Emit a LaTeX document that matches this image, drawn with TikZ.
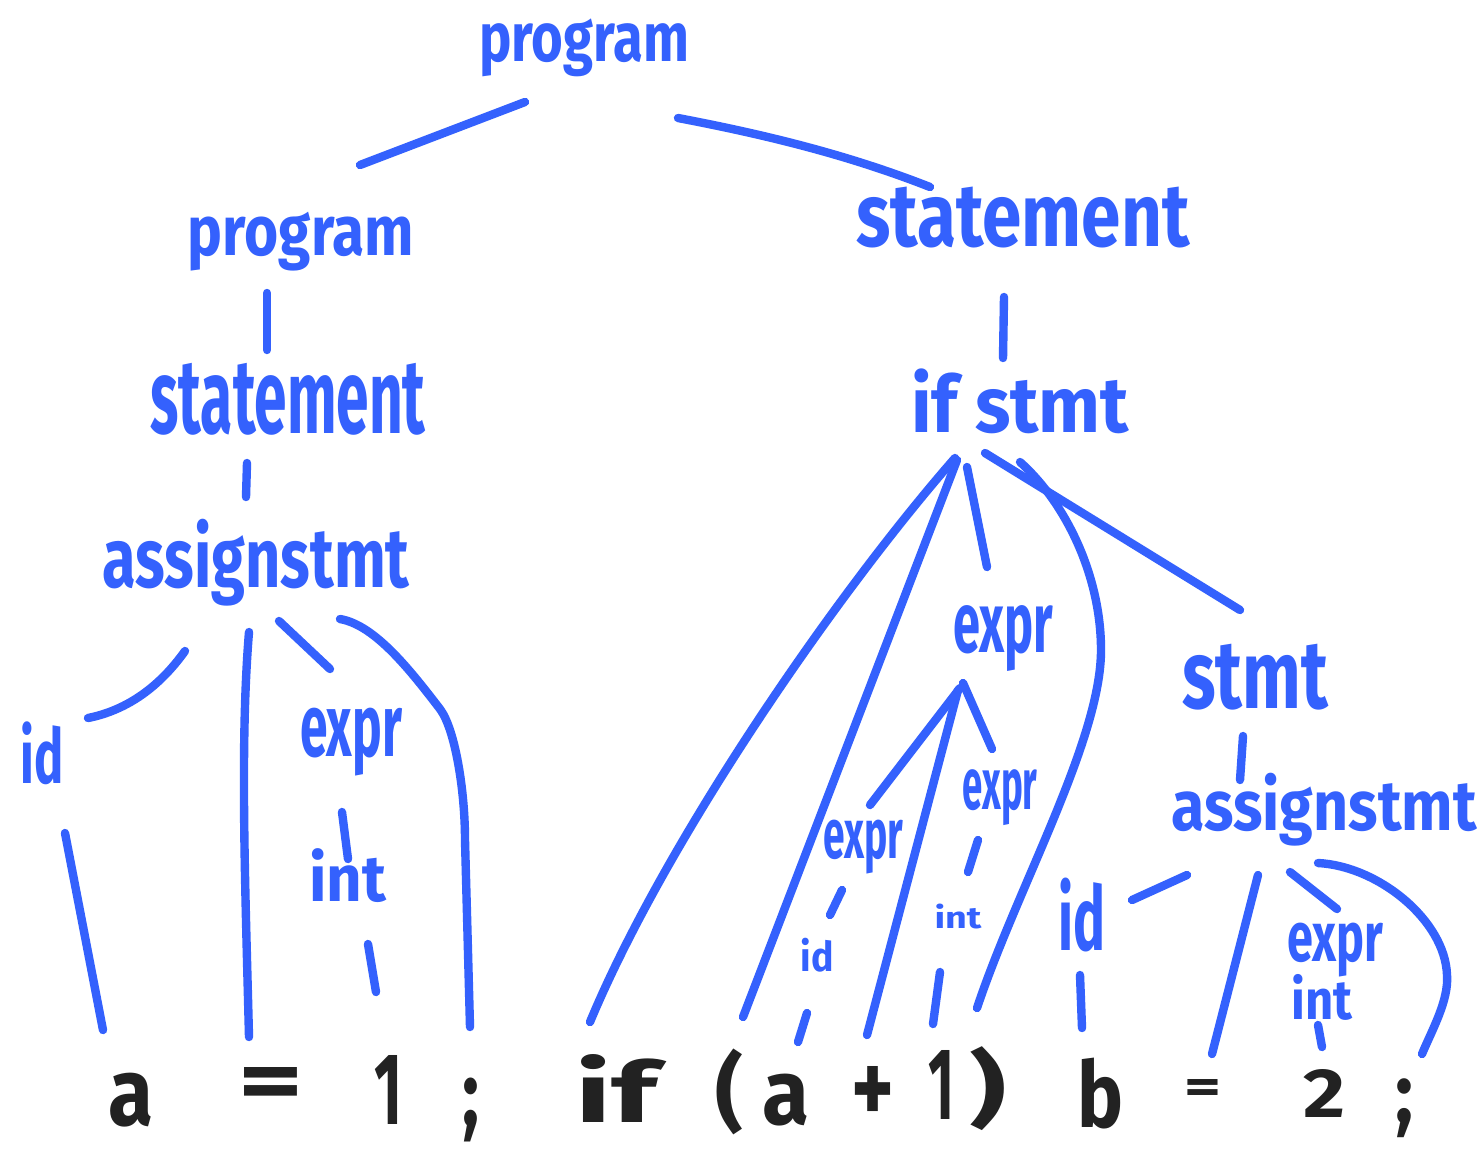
\documentclass[tikz,border=0pt]{standalone}
\usepackage{fontspec}
\setmainfont{Fira Sans}
\usetikzlibrary{calc}
\definecolor{pen}{HTML}{3461FD}
\definecolor{ink}{HTML}{222222}
\newdimen\pxu \pxu=0.5pt
\newcommand\lb[3]{\resizebox*{#1\pxu}{#2\pxu}{\bfseries #3}}
\newcommand\tk[3]{\resizebox*{#1\pxu}{#2\pxu}{\bfseries #3}}
\begin{document}
\begin{tikzpicture}[x=0.5pt,y=-0.5pt,
  lab/.style={inner sep=0pt, outer sep=0pt, text=pen, anchor=center},
  tok/.style={inner sep=0pt, outer sep=0pt, text=ink, anchor=center},
  hstroke/.style={draw=pen, line width=4.2pt, line cap=round, line join=round}]
\fill[white] (0,0) rectangle (1481,1153);
\useasboundingbox (0,0) rectangle (1481,1153);

% labels
\node[lab] (n0) at (584,48) {\lb{210}{58}{program}};
\node[lab] (n1) at (301,242) {\lb{226}{59}{program}};
\node[lab] (n2) at (1023,218) {\lb{333}{61}{statement}};
\node[lab] (n3) at (288,399) {\lb{275}{72}{statement}};
\node[lab] (n4) at (1020,401) {\lb{218}{65}{if stmt}};
\node[lab] (n5) at (256,563) {\lb{307}{87}{assignstmt}};
\node[lab] (n6) at (42,753) {\lb{43}{63}{id}};
\node[lab] (n7) at (351,742) {\lb{102}{68}{expr}};
\node[lab] (n8) at (348,876) {\lb{77}{54}{int}};
\node[lab] (n9) at (1003,639) {\lb{100}{66}{expr}};
\node[lab] (n10) at (863,847) {\lb{80}{54}{expr}};
\node[lab] (n11) at (1000,798) {\lb{75}{56}{expr}};
\node[lab] (n12) at (817,955) {\lb{33}{34}{id}};
\node[lab] (n13) at (958,916) {\lb{47}{25}{int}};
\node[lab] (n14) at (1255,677) {\lb{146}{66}{stmt}};
\node[lab] (n15) at (1324,810) {\lb{305}{73}{assignstmt}};
\node[lab] (n16) at (1082,915) {\lb{47}{74}{id}};
\node[lab] (n17) at (1335,950) {\lb{96}{54}{expr}};
\node[lab] (n18) at (1322,997) {\lb{61}{46}{int}};

% tokens
\node[tok] (t1) at (131,1100) {\tk{45}{54}{a}};
\node[tok] (t2) at (271,1089) {\tk{65}{43}{=}};
\node[tok] (t3) at (388,1090) {\tk{28}{69}{1}};
\node[tok] (t4) at (471,1110) {\tk{17}{64}{;}};
\node[tok] (t5) at (616,1088) {\tk{82}{68}{if}};
\node[tok] (t6) at (729,1092) {\tk{28}{86}{(}};
\node[tok] (t7) at (786,1100) {\tk{47}{52}{a}};
\node[tok] (t8) at (873,1095) {\tk{43}{57}{+}};
\node[tok] (t9) at (941,1085) {\tk{26}{69}{1}};
\node[tok] (t10) at (988,1089) {\tk{37}{84}{)}};
\node[tok] (t11) at (1100,1094) {\tk{46}{71}{b}};
\node[tok] (t12) at (1203,1091) {\tk{37}{24}{=}};
\node[tok] (t13) at (1324,1093) {\tk{42}{48}{2}};
\node[tok] (t14) at (1404,1108) {\tk{18}{59}{;}};

% upper connectors
\draw[hstroke] ($(n0)+(-59,54)$) -- ($(n1)+(59,-77)$);
\draw[hstroke] ($(n0)+(94,70)$) .. controls +(84,16) and +(-84,-33) .. ($(n2)+(-93,-31)$);
\draw[hstroke] ($(n1)+(-34,51)$) -- ($(n3)+(-21,-49)$);
\draw[hstroke] ($(n2)+(-19,79)$) -- ($(n4)+(-17,-43)$);
\draw[hstroke] ($(n3)+(-41,64)$) -- ($(n5)+(-10,-66)$);

% left assignstmt
\draw[hstroke] ($(n5)+(-71,88)$) .. controls +(-25,35) and +(40,-8) .. ($(n6)+(46,-35)$);
\draw[hstroke] ($(n5)+(-7,69)$) .. controls +(-9,110) and +(-4,-160) .. ($(t2)+(-22,-52)$);
\draw[hstroke] ($(n5)+(23,58)$) -- ($(n7)+(-21,-73)$);
\draw[hstroke] ($(n5)+(84,56)$) .. controls +(35,6) and +(-30,-39) .. ++(100,90)
   .. controls +(15,20) and +(0,-50) .. ++(25,131) -- ($(t4)+(-1,-83)$);
\draw[hstroke] ($(n6)+(23,80)$) -- ($(t1)+(-28,-70)$);
\draw[hstroke] ($(n7)+(-9,70)$) -- ($(n8)+(0,-17)$);
\draw[hstroke] ($(n8)+(20,68)$) -- ($(t3)+(-12,-98)$);

% if stmt
\draw[hstroke] ($(n4)+(-65,57)$) .. controls +(-120,137) and +(75,-180) .. ($(t5)+(-26,-66)$);
\draw[hstroke] ($(n4)+(-63,59)$) -- ($(t6)+(14,-75)$);
\draw[hstroke] ($(n4)+(-53,66)$) -- ($(n9)+(-16,-72)$);
\draw[hstroke] ($(n4)+(0,61)$) .. controls +(45,40) and +(0,-75) .. ++(81,188)
   .. controls +(0,90) and +(40,-120) .. ($(t10)+(-11,-81)$);
\draw[hstroke] ($(n4)+(-35,52)$) -- ($(n14)+(-15,-67)$);

% expr subtree
\draw[hstroke] ($(n9)+(-43,49)$) -- ($(n10)+(7,-42)$);
\draw[hstroke] ($(n9)+(-40,44)$) -- ($(n11)+(-8,-49)$);
\draw[hstroke] ($(n9)+(-45,51)$) -- ($(t8)+(-6,-60)$);
\draw[hstroke] ($(n10)+(-21,43)$) -- ($(n12)+(13,-40)$);
\draw[hstroke] ($(n12)+(-10,58)$) -- ($(t7)+(12,-58)$);
\draw[hstroke] ($(n11)+(-22,42)$) -- ($(n13)+(10,-44)$);
\draw[hstroke] ($(n13)+(-18,56)$) -- ($(t9)+(-8,-61)$);

% stmt subtree
\draw[hstroke] ($(n14)+(-12,59)$) -- ($(n15)+(-84,-30)$);
\draw[hstroke] ($(n15)+(-137,65)$) -- ($(n16)+(50,-15)$);
\draw[hstroke] ($(n15)+(-66,65)$) -- ($(t12)+(9,-37)$);
\draw[hstroke] ($(n15)+(-34,62)$) -- ($(n17)+(2,-41)$);
\draw[hstroke] ($(n15)+(-6,53)$) .. controls +(60,3) and +(-2,-55) .. ++(129,112)
   .. controls +(2,25) and +(10,-24) .. ($(t14)+(18,-54)$);
\draw[hstroke] ($(n16)+(-2,60)$) -- ($(t11)+(-18,-66)$);
\draw[hstroke] ($(n18)+(-4,28)$) -- ($(t13)+(-2,-46)$);
\end{tikzpicture}
\end{document}
